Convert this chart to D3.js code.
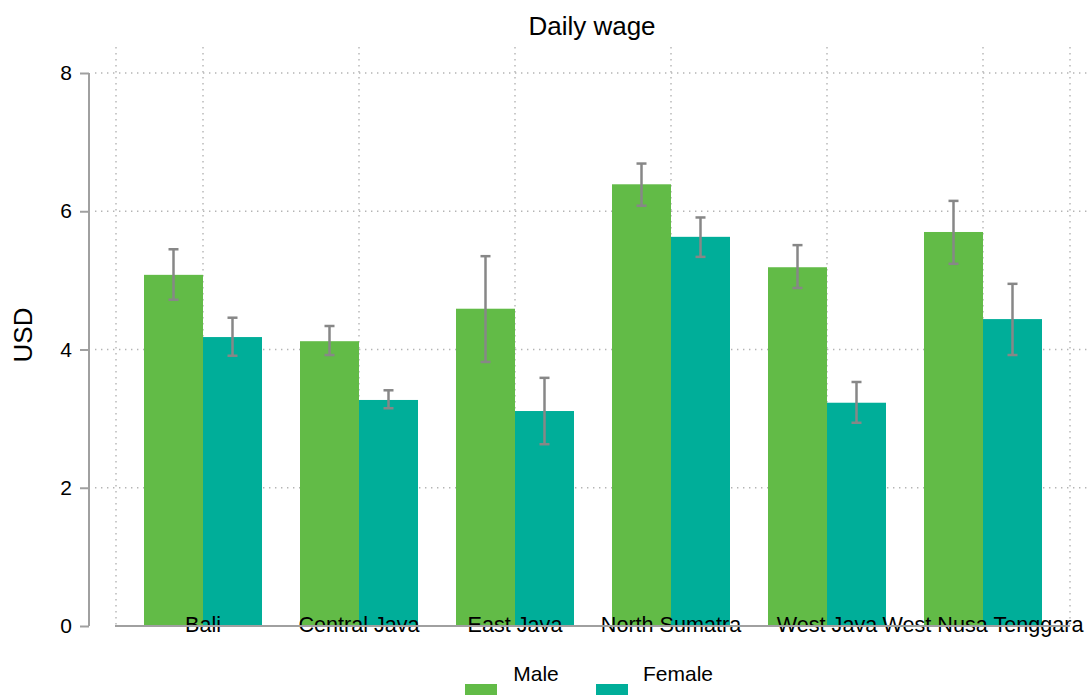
<!DOCTYPE html>
<html>
<head>
<meta charset="utf-8">
<script src="https://cdn.jsdelivr.net/npm/d3@7"></script>
<style>
  html, body { margin: 0; padding: 0; background: #fff; }
  svg { display: block; font-family: "Liberation Sans", Arial, sans-serif; }
</style>
</head>
<body>
<svg id="chart" width="1087" height="695"></svg>
<script>
// Regions and groups
const regions = ["Bali", "Central Java", "East Java", "North Sumatra", "West Java", "West Nusa Tenggara"];
const genders = ["Male", "Female"];

// Mean daily wage (USD) and confidence bounds
const maleMean  = [5.08, 4.12, 4.59, 6.39, 5.19, 5.70];
const maleLow   = [4.72, 3.92, 3.82, 6.08, 4.89, 5.24];
const maleHigh  = [5.45, 4.34, 5.35, 6.69, 5.51, 6.15];
const femaleMean = [4.18, 3.27, 3.11, 5.63, 3.23, 4.44];
const femaleLow  = [3.91, 3.15, 2.63, 5.34, 2.94, 3.92];
const femaleHigh = [4.46, 3.41, 3.59, 5.91, 3.53, 4.95];

const yTicks = [0, 2, 4, 6, 8];
const colors = { Male: "#62bb47", Female: "#00ae99" };

const rows = [];
regions.forEach((r, i) => {
  rows.push({ region: r, gender: "Male", mean: maleMean[i], low: maleLow[i], high: maleHigh[i] });
  rows.push({ region: r, gender: "Female", mean: femaleMean[i], low: femaleLow[i], high: femaleHigh[i] });
});

const svg = d3.select("#chart");
const plotLeft = 116, plotRight = 1070, plotTop = 73, plotBottom = 626;

const x = d3.scaleBand().domain(regions).range([plotLeft, plotRight]).paddingInner(0).paddingOuter(0.0577);
const xg = d3.scaleBand().domain(genders).range([0, x.bandwidth()]).paddingInner(0).paddingOuter(0.322);
const y = d3.scaleLinear().domain([0, 8]).range([plotBottom, plotTop]);

// Dotted grid
const grid = svg.append("g").attr("stroke", "#b4b4b4").attr("stroke-width", 1.4).attr("stroke-dasharray", "1.4,4.6");
yTicks.filter(t => t > 0).forEach(t => {
  grid.append("line").attr("x1", 95).attr("x2", 1087).attr("y1", y(t)).attr("y2", y(t));
});
const vx = [plotLeft, ...regions.map(r => x(r) + x.bandwidth() / 2), plotRight];
vx.forEach(v => {
  grid.append("line").attr("x1", v).attr("x2", v).attr("y1", 47).attr("y2", plotBottom);
});

// Bars
svg.append("g").selectAll("rect").data(rows).join("rect")
  .attr("x", d => x(d.region) + xg(d.gender))
  .attr("width", xg.bandwidth())
  .attr("y", d => y(d.mean))
  .attr("height", d => y(0) - y(d.mean))
  .attr("fill", d => colors[d.gender]);

// Error bars
const eb = svg.append("g").attr("stroke", "#878787").attr("stroke-width", 2.5).attr("fill", "none");
rows.forEach(d => {
  const cx = x(d.region) + xg(d.gender) + xg.bandwidth() / 2;
  eb.append("line").attr("x1", cx).attr("x2", cx).attr("y1", y(d.low)).attr("y2", y(d.high));
  eb.append("line").attr("x1", cx - 5).attr("x2", cx + 5).attr("y1", y(d.low)).attr("y2", y(d.low));
  eb.append("line").attr("x1", cx - 5).attr("x2", cx + 5).attr("y1", y(d.high)).attr("y2", y(d.high));
});

// Y axis
const yAxis = svg.append("g").attr("transform", "translate(89,0)")
  .call(d3.axisLeft(y).tickValues(yTicks).tickSize(9).tickPadding(8).tickFormat(d3.format("d")));
yAxis.select(".domain").attr("stroke", "#a0a0a0").attr("stroke-width", 2).attr("d", `M0,${plotTop}V${plotBottom}`);
yAxis.selectAll(".tick line").attr("stroke", "#a0a0a0").attr("stroke-width", 2);
yAxis.selectAll(".tick text").attr("font-size", 21).attr("fill", "#000").attr("font-family", "Liberation Sans, Arial, sans-serif");

// X axis labels and baseline
const xAxis = svg.append("g").attr("transform", `translate(0,${plotBottom})`)
  .call(d3.axisBottom(x).tickSize(0).tickPadding(0));
xAxis.select(".domain").remove();
xAxis.selectAll(".tick text")
  .attr("y", 6).attr("dy", 0)
  .attr("font-size", 21.6).attr("fill", "#000").attr("font-family", "Liberation Sans, Arial, sans-serif");
svg.append("line").attr("x1", 115).attr("x2", plotRight).attr("y1", plotBottom).attr("y2", plotBottom)
  .attr("stroke", "#a0a0a0").attr("stroke-width", 2);

// Title and axis title
svg.append("text").attr("x", 592).attr("y", 35).attr("text-anchor", "middle")
  .attr("font-size", 26).text("Daily wage");
svg.append("text").attr("transform", "translate(32,335) rotate(-90)").attr("text-anchor", "middle")
  .attr("font-size", 26).text("USD");

// Legend
const legend = [
  { key: "Male", sx: 465, tx: 536 },
  { key: "Female", sx: 596, tx: 678 }
];
legend.forEach(l => {
  svg.append("rect").attr("x", l.sx).attr("y", 684).attr("width", 32).attr("height", 14).attr("fill", colors[l.key]);
  svg.append("text").attr("x", l.tx).attr("y", 681).attr("text-anchor", "middle").attr("font-size", 21).text(l.key);
});
</script>
</body>
</html>
